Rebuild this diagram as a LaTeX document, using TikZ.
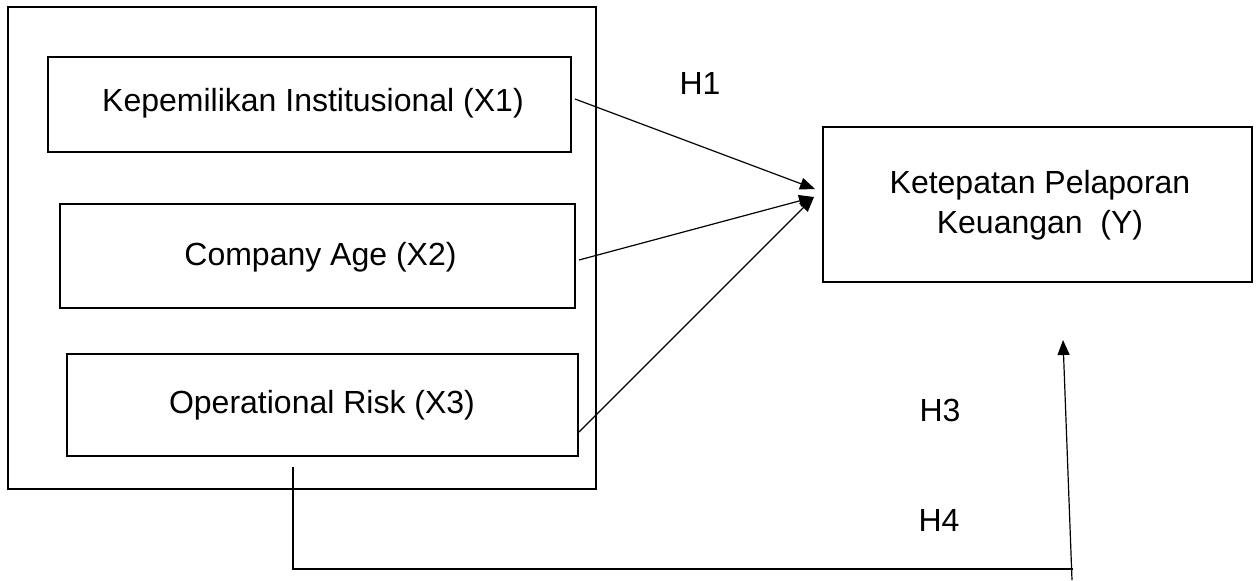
\documentclass[tikz,border=0pt]{standalone}
\usepackage{fontspec}
\setmainfont{Liberation Sans}
\usetikzlibrary{arrows.meta}
\begin{document}
\begin{tikzpicture}[x=0.5pt,y=-0.5pt,
  box/.style={draw=black,line width=1.2pt,rectangle,inner sep=0pt},
  lbl/.style={inner sep=0pt,font=\fontsize{16}{20}\selectfont},
  conn/.style={draw=black,line width=0.6pt},
  arr/.style={conn,-{Triangle[length=7.5pt,width=6pt]}}]
\useasboundingbox (0,0) rectangle (1260,580);
% outer group box
\node[box,minimum width=294pt,minimum height=241pt] (outer) at (302,248) {};
% independent variable boxes
\node[box,minimum width=261.5pt,minimum height=47.5pt] (x1) at (309.5,104.5) {};
\node[lbl] (x1t) at (313,103) {Kepemilikan Institusional (X1)};
\node[box,minimum width=257.5pt,minimum height=52pt] (x2) at (317.5,256) {};
\node[lbl] (x2t) at (320.5,257) {Company Age (X2)};
\node[box,minimum width=255.5pt,minimum height=51pt] (x3) at (322.5,405) {};
\node[lbl] (x3t) at (322,405) {Operational Risk (X3)};
% dependent variable
\node[box,minimum width=214.5pt,minimum height=77.5pt] (y) at (1037.5,204.5) {};
\node[lbl,align=center] (yt) at (1040,205) {Ketepatan Pelaporan\\Keuangan~~(Y)};
% hypothesis labels
\node[lbl] (h1) at (700,83) {H1};
\node[lbl] (h3) at (940,410) {H3};
\node[lbl] (h4) at (939,520) {H4};
% arrow anchor points
\coordinate (s1) at (575,99);
\coordinate (s2) at (579,260);
\coordinate (s3) at (579,432);
\coordinate (t1) at (815,189);
\coordinate (t2) at (814,197);
\draw[arr] (s1) -- (t1);
\draw[arr] (s2) -- (t2);
\draw[arr] (s3) -- (t2);
% bottom connector (H4)
\coordinate (b0) at (293,467);
\coordinate (b1) at (293,569);
\coordinate (b2) at (1073,569);
\draw[conn] (b0) -- (b1) -- (b2);
\coordinate (v0) at (1072,580);
\coordinate (v1) at (1063,340);
\draw[arr] (v0) -- (v1);
\end{tikzpicture}
\end{document}
